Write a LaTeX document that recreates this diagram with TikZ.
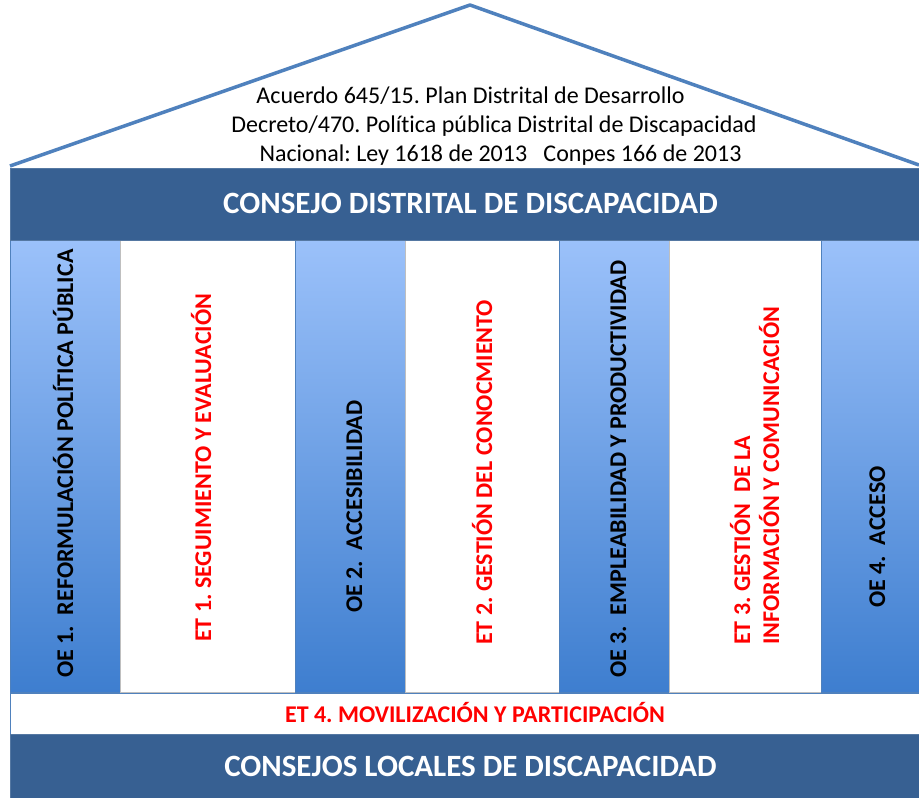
\documentclass[tikz,border=0pt]{standalone}
\usepackage{fontspec}
\setmainfont{Carlito}[Ligatures=NoCommon]
\frenchspacing
\definecolor{roofblue}{RGB}{79,129,189}
\definecolor{band}{RGB}{55,96,146}
\definecolor{coltop}{RGB}{155,193,250}
\definecolor{colbot}{RGB}{62,126,207}
\definecolor{etred}{RGB}{255,0,0}
\tikzset{
 roofline/.style={draw=roofblue, line width=3.5pt, line join=round},
 bandbox/.style={fill=band, draw=band!85!white, line width=0.8pt},
 bluecol/.style={top color=coltop, bottom color=colbot, draw=roofblue, line width=0.8pt},
 whitecol/.style={fill=white, draw=black!25, line width=0.8pt},
 stripbox/.style={fill=white, draw=roofblue, line width=0.8pt},
 rooftext/.style={font=\fontsize{24}{28}\selectfont, inner sep=0, anchor=base},
 bandtext/.style={font=\fontsize{31}{35}\selectfont\bfseries, text=white, inner sep=0, anchor=base},
 oetext/.style={font=\fontsize{24}{28}\selectfont\bfseries, text=black, inner sep=0, rotate=90, anchor=base west},
 ettext/.style={oetext, text=etred},
}
\begin{document}
\begin{tikzpicture}[x=1pt,y=-1pt]
\useasboundingbox (0,0) rectangle (919,798);
\fill[white] (0,0) rectangle (919,798);
% roof
\draw[roofline] (10,166) -- (470,5) -- (919,165);
% columns
\shade[bluecol] (10,240) rectangle (120,692);
\filldraw[whitecol] (120,240) rectangle (295,692);
\shade[bluecol] (295,240) rectangle (405,692);
\filldraw[whitecol] (405,240) rectangle (559,692);
\shade[bluecol] (559,240) rectangle (669,692);
\filldraw[whitecol] (669,240) rectangle (821,692);
\shade[bluecol] (821,240) rectangle (919,692);
% bands
\filldraw[bandbox] (10,168) rectangle (919,240);
\filldraw[stripbox] (10,693) rectangle (919,734);
\filldraw[bandbox] (10,734) rectangle (919,798);
% roof text
\node[rooftext] (r1) at (470.5,103) {Acuerdo 645/15. Plan Distrital de Desarrollo};
\node[rooftext] (r2) at (494,132.5) {Decreto/470. Política pública Distrital de Discapacidad};
\node[rooftext] (r3) at (500.5,161.5) {Nacional: Ley 1618 de 2013\ \ \ Conpes 166 de 2013};
% band texts
\node[bandtext] (cdd) at (470.5,213) {CONSEJO DISTRITAL DE DISCAPACIDAD};
\node[bandtext] (cld) at (470.5,776) {CONSEJOS LOCALES DE DISCAPACIDAD};
\node[font=\fontsize{24}{28}\selectfont\bfseries, text=etred, inner sep=0, anchor=base] (et4) at (475,722) {ET 4. MOVILIZACIÓN Y PARTICIPACIÓN};
% column texts
\node[oetext] (oe1) at (73,678) {OE 1.\ \ REFORMULACIÓN POLÍTICA PÚBLICA};
\node[ettext] (et1) at (211,642) {ET 1. SEGUIMIENTO Y EVALUACIÓN};
\node[oetext] (oe2) at (362,613) {OE 2.\ \ ACCESIBILIDAD};
\node[ettext] (et2) at (492,645) {ET 2. GESTIÓN DEL CONOCMIENTO};
\node[oetext] (oe3) at (626,678) {OE 3.\ \ EMPLEABILIDAD Y PRODUCTIVIDAD};
\node[ettext] (et3a) at (750,645) {ET 3. GESTIÓN\ \ DE LA};
\node[ettext] (et3b) at (779,645) {INFORMACIÓN Y COMUNICACIÓN};
\node[oetext] (oe4) at (885,608) {OE 4.\ \ ACCESO};
\end{tikzpicture}
\end{document}
